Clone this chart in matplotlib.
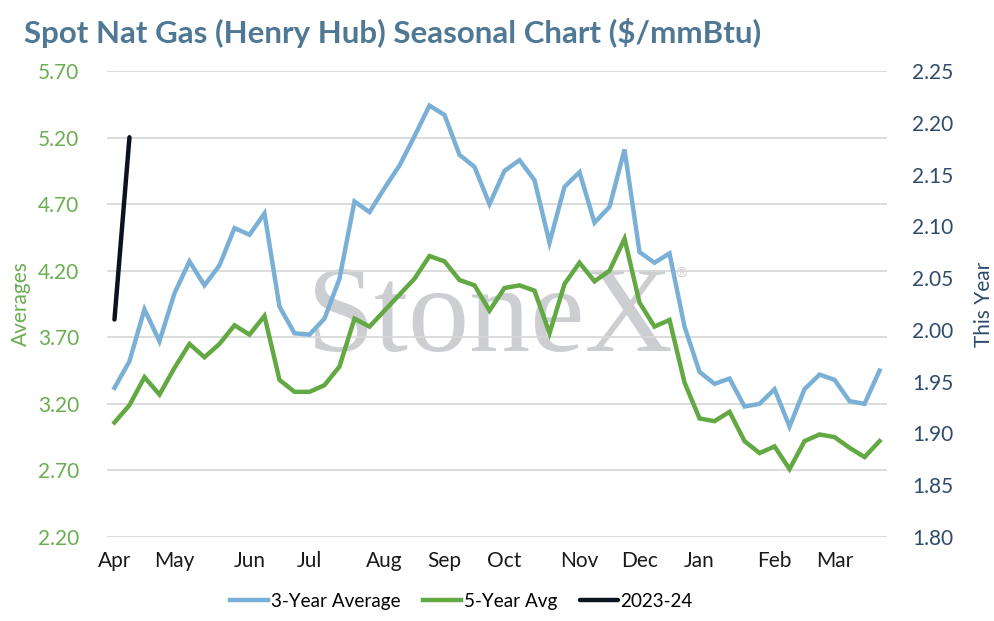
import numpy as np
import matplotlib
matplotlib.use('Agg')
import matplotlib.pyplot as plt

# weekly data, Apr -> Mar (52 weeks)
avg3 = [3.32, 3.52, 3.91, 3.67, 4.03, 4.27, 4.09, 4.24, 4.52, 4.47,
        4.63, 3.93, 3.73, 3.72, 3.84, 4.14, 4.72, 4.64, 4.82, 4.99,
        5.21, 5.44, 5.37, 5.07, 4.98, 4.70, 4.95, 5.03, 4.88, 4.41,
        4.83, 4.94, 4.56, 4.68, 5.11, 4.34, 4.26, 4.33, 3.78, 3.44,
        3.35, 3.39, 3.18, 3.20, 3.31, 3.03, 3.31, 3.42, 3.38, 3.22,
        3.20, 3.45]
avg5 = [3.06, 3.19, 3.40, 3.27, 3.47, 3.65, 3.55, 3.65, 3.79, 3.72,
        3.86, 3.38, 3.29, 3.29, 3.34, 3.48, 3.84, 3.78, 3.90, 4.02,
        4.14, 4.31, 4.27, 4.13, 4.09, 3.90, 4.07, 4.09, 4.05, 3.73,
        4.10, 4.26, 4.12, 4.20, 4.44, 3.96, 3.78, 3.83, 3.36, 3.09,
        3.07, 3.14, 2.92, 2.83, 2.88, 2.71, 2.92, 2.97, 2.95, 2.87,
        2.80, 2.92]
this_year = [2.01, 2.186]

month_labels = ['Apr', 'May', 'Jun', 'Jul', 'Aug', 'Sep', 'Oct', 'Nov', 'Dec', 'Jan', 'Feb', 'Mar']
month_pos = [0, 4, 9, 13, 18, 22, 26, 31, 35, 39, 44, 48]

left_ticks = [2.20, 2.70, 3.20, 3.70, 4.20, 4.70, 5.20, 5.70]
right_ticks = [1.80, 1.85, 1.90, 1.95, 2.00, 2.05, 2.10, 2.15, 2.20, 2.25]

plt.rcParams['font.family'] = ['Lato', 'DejaVu Sans']

blue = '#7bb0d6'
green = '#62a843'
black = '#0b1320'
title_col = '#4f7894'
left_col = '#6aae4f'
right_col = '#2e4b6c'

fig = plt.figure(figsize=(9.95, 6.21), dpi=100)
ax = fig.add_axes([0.1075, 0.1353, 0.784, 0.7504])
ax2 = ax.twinx()

x = np.arange(len(avg3))
l1, = ax.plot(x, avg3, color=blue, lw=3.2, solid_joinstyle='miter', zorder=3)
l2, = ax.plot(x, avg5, color=green, lw=3.2, solid_joinstyle='miter', zorder=3)
l3, = ax2.plot(np.arange(len(this_year)), this_year, color=black, lw=3.2,
               solid_capstyle='round', zorder=3)

ax.set_xlim(-0.5, 51.5)
ax.set_ylim(2.20, 5.70)
ax2.set_ylim(1.80, 2.25)
ax.set_yticks(left_ticks)
ax.set_yticklabels(['%.2f' % v for v in left_ticks])
ax2.set_yticks(right_ticks)
ax2.set_yticklabels(['%.2f' % v for v in right_ticks])
ax.set_xticks(month_pos)
ax.set_xticklabels(month_labels)

ax.set_axisbelow(True)
ax.grid(axis='y', color='#d9d9d9', lw=1.3)
for a in (ax, ax2):
    for s in a.spines.values():
        s.set_visible(False)
ax.tick_params(axis='y', length=0, pad=20, labelsize=15, labelcolor=left_col)
ax.tick_params(axis='x', length=0, pad=10, labelsize=15, labelcolor='#1a1a1a')
ax2.tick_params(axis='y', length=0, pad=18, labelsize=15, labelcolor=right_col)

ax.set_ylabel('Averages', color=left_col, fontsize=15, labelpad=5)
ax2.set_ylabel('This Year', color=right_col, fontsize=15, labelpad=15)

# watermark
ax.text(0.491, 0.40, 'StoneX', transform=ax.transAxes, ha='center', va='baseline',
        fontsize=88, family='Liberation Serif', color='#cdced2', zorder=0.1)
ax.text(0.727, 0.565, '®', transform=ax.transAxes, ha='left', va='center',
        fontsize=10, family='DejaVu Sans', color='#cdced2', zorder=0.1)

fig.text(0.024, 0.947, 'Spot Nat Gas (Henry Hub) Seasonal Chart ($/mmBtu)',
         fontsize=22.5, fontweight='bold', color=title_col, ha='left', va='center')

fig.legend([l1, l2, l3], ['3-Year Average', '5-Year Avg', '2023-24'],
           loc='center', bbox_to_anchor=(0.464, 0.032), ncol=3, frameon=False,
           fontsize=13.6, handlelength=2.0, handletextpad=0.15, columnspacing=1.2)

fig.savefig('out.png', dpi=100)
